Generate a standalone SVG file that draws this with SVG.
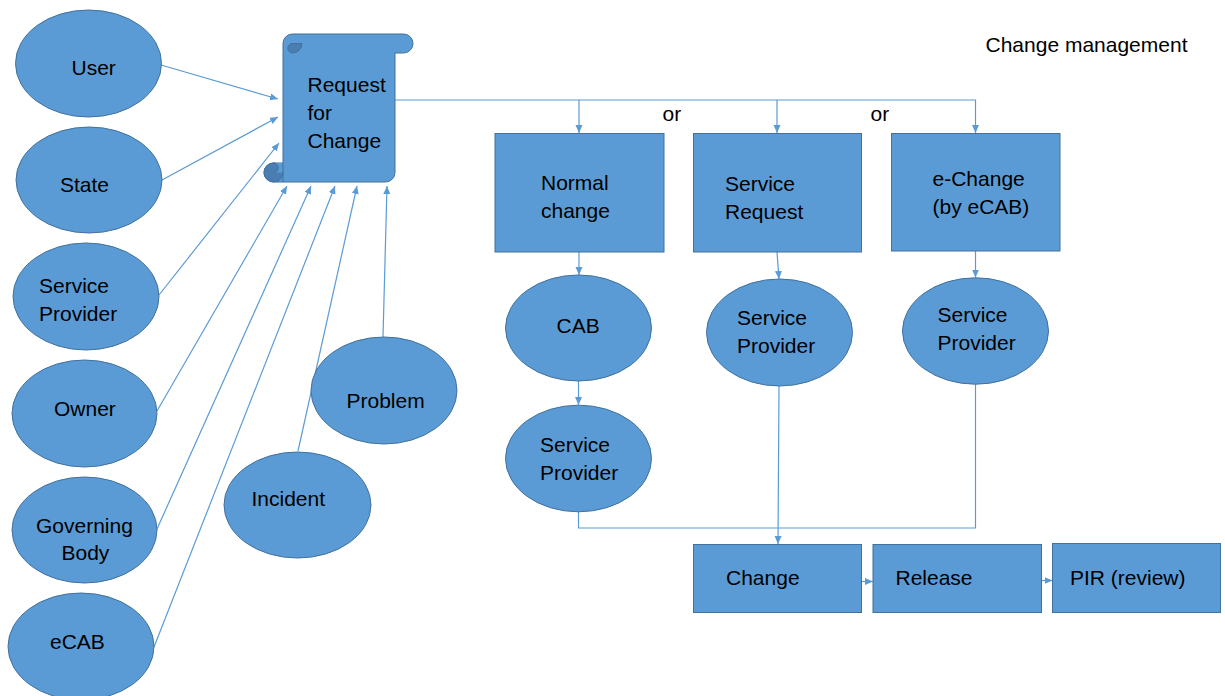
<svg xmlns="http://www.w3.org/2000/svg" width="1225" height="696" viewBox="0 0 1225 696">
<style>
  .shape { fill: #5B9BD5; stroke: #41719C; stroke-width: 1; }
  .dark { fill: #4A7EB3; stroke: #41719C; stroke-width: 1; }
  .lbl { font-family: "Liberation Sans", Arial, sans-serif; font-size: 21px; fill: #000; }
  .conn { fill: none; stroke: #5B9BD5; stroke-width: 1.2; }
</style>
<defs>
  <marker id="arr" markerUnits="userSpaceOnUse" markerWidth="9" markerHeight="8" refX="8" refY="3.5" orient="auto">
    <path d="M0,0 L8,3.5 L0,7 Z" fill="#5B9BD5"/>
  </marker>
</defs>
<rect width="1225" height="696" fill="#ffffff"/>

<g id="connectors">
  <line class="conn" x1="161" y1="65" x2="278" y2="99" marker-end="url(#arr)"/>
  <line class="conn" x1="162" y1="180" x2="278" y2="117" marker-end="url(#arr)"/>
  <line class="conn" x1="159" y1="295" x2="279" y2="143" marker-end="url(#arr)"/>
  <line class="conn" x1="157" y1="411" x2="287" y2="186" marker-end="url(#arr)"/>
  <line class="conn" x1="157" y1="529" x2="311" y2="186" marker-end="url(#arr)"/>
  <line class="conn" x1="154" y1="647" x2="335" y2="186" marker-end="url(#arr)"/>
  <line class="conn" x1="298" y1="451" x2="357" y2="186" marker-end="url(#arr)"/>
  <line class="conn" x1="383" y1="337" x2="387" y2="186" marker-end="url(#arr)"/>
  <path class="conn" d="M395,100 H975.5 V133" marker-end="url(#arr)"/>
  <line class="conn" x1="579" y1="100" x2="579" y2="133" marker-end="url(#arr)"/>
  <line class="conn" x1="777" y1="100" x2="777" y2="133" marker-end="url(#arr)"/>
  <line class="conn" x1="579" y1="252" x2="579" y2="275" marker-end="url(#arr)"/>
  <line class="conn" x1="777" y1="252" x2="779" y2="279" marker-end="url(#arr)"/>
  <line class="conn" x1="975.5" y1="251" x2="975.5" y2="277.5" marker-end="url(#arr)"/>
  <line class="conn" x1="578.5" y1="381" x2="578.5" y2="405" marker-end="url(#arr)"/>
  <path class="conn" d="M578.5,511.5 V528 H975.5 V384"/>
  <line class="conn" x1="779" y1="386" x2="778" y2="544" marker-end="url(#arr)"/>
  <line class="conn" x1="862" y1="581.5" x2="873" y2="581.5" marker-end="url(#arr)"/>
  <line class="conn" x1="1041.5" y1="580.5" x2="1052.5" y2="580.5" marker-end="url(#arr)"/>
</g>

<g id="user"><ellipse class="shape" cx="88.5" cy="63.5" rx="73" ry="53.5"/><text class="lbl" x="71.5" y="75">User</text></g>
<g id="state"><ellipse class="shape" cx="89" cy="180" rx="73" ry="53"/><text class="lbl" x="60" y="192">State</text></g>
<g id="service-provider-left"><ellipse class="shape" cx="86" cy="296.5" rx="73" ry="53.5"/><text class="lbl" x="39" y="292.5">Service</text><text class="lbl" x="39" y="320.5">Provider</text></g>
<g id="owner"><ellipse class="shape" cx="84.5" cy="413.5" rx="72.5" ry="53.5"/><text class="lbl" x="54" y="416">Owner</text></g>
<g id="governing-body"><ellipse class="shape" cx="84.5" cy="530" rx="72.5" ry="53"/><text class="lbl" x="36" y="532.5">Governing</text><text class="lbl" x="61.5" y="560">Body</text></g>
<g id="ecab"><ellipse class="shape" cx="81" cy="646.5" rx="73" ry="53.5"/><text class="lbl" x="50" y="648.5">eCAB</text></g>
<g id="incident"><ellipse class="shape" cx="297.5" cy="505" rx="73.5" ry="53"/><text class="lbl" x="251.5" y="505.5">Incident</text></g>
<g id="problem"><ellipse class="shape" cx="384" cy="390.5" rx="73" ry="53.5"/><text class="lbl" x="346.5" y="407.5">Problem</text></g>

<g id="request-for-change">
  <path class="shape" d="M292.5,34 H403.5 A9.5,9.5 0 0 1 403.5,53 H395 V172.5 A9.5,9.5 0 0 1 385.5,182 H273.5 A9.5,9.5 0 0 1 273.5,163 H283 V43.5 A9.5,9.5 0 0 1 292.5,34 Z"/>
  <path class="dark" d="M302,43.5 A9.5,9.5 0 0 1 292.5,53 A4.75,4.75 0 0 1 292.5,43.5 Z"/>
  <circle class="dark" cx="273.5" cy="172.5" r="9.5"/>
  <path d="M273.5,163 A4.75,4.75 0 0 1 273.5,172.5 H283 V163 Z" fill="#5B9BD5"/>
  <path d="M273.5,172.5 A4.75,4.75 0 0 0 273.5,163 M283,163 V182" fill="none" stroke="#41719C" stroke-width="1"/>
  <text class="lbl" x="307.5" y="92">Request</text>
  <text class="lbl" x="307.5" y="120">for</text>
  <text class="lbl" x="307.5" y="148">Change</text>
</g>

<g id="title"><text class="lbl" x="985.5" y="51.5">Change management</text></g>
<g id="or-labels"><text class="lbl" x="662.5" y="121">or</text><text class="lbl" x="870.5" y="121">or</text></g>

<g id="normal-change"><rect class="shape" x="495" y="133.5" width="169" height="118.5"/><text class="lbl" x="541" y="190">Normal</text><text class="lbl" x="541" y="218">change</text></g>
<g id="service-request"><rect class="shape" x="693.5" y="133.5" width="168" height="118.5"/><text class="lbl" x="725" y="191">Service</text><text class="lbl" x="725" y="219">Request</text></g>
<g id="e-change"><rect class="shape" x="891.5" y="133.5" width="168.5" height="117.5"/><text class="lbl" x="932.5" y="185.5">e-Change</text><text class="lbl" x="932.5" y="213.5">(by eCAB)</text></g>

<g id="cab"><ellipse class="shape" cx="578.5" cy="328" rx="73" ry="53"/><text class="lbl" x="556.5" y="333">CAB</text></g>
<g id="service-provider-cab"><ellipse class="shape" cx="578.5" cy="458.5" rx="73" ry="53.3"/><text class="lbl" x="540" y="452">Service</text><text class="lbl" x="540" y="480">Provider</text></g>
<g id="service-provider-mid"><ellipse class="shape" cx="779.5" cy="332.5" rx="73" ry="53.5"/><text class="lbl" x="737" y="325">Service</text><text class="lbl" x="737" y="353">Provider</text></g>
<g id="service-provider-right"><ellipse class="shape" cx="975.5" cy="331" rx="73" ry="53.2"/><text class="lbl" x="937.5" y="322">Service</text><text class="lbl" x="937.5" y="350">Provider</text></g>

<g id="change"><rect class="shape" x="693.5" y="544.5" width="168" height="68"/><text class="lbl" x="726" y="585">Change</text></g>
<g id="release"><rect class="shape" x="873" y="544.5" width="168.5" height="68"/><text class="lbl" x="895.5" y="585">Release</text></g>
<g id="pir"><rect class="shape" x="1052.5" y="543.5" width="168" height="69"/><text class="lbl" x="1070" y="585">PIR (review)</text></g>
</svg>
